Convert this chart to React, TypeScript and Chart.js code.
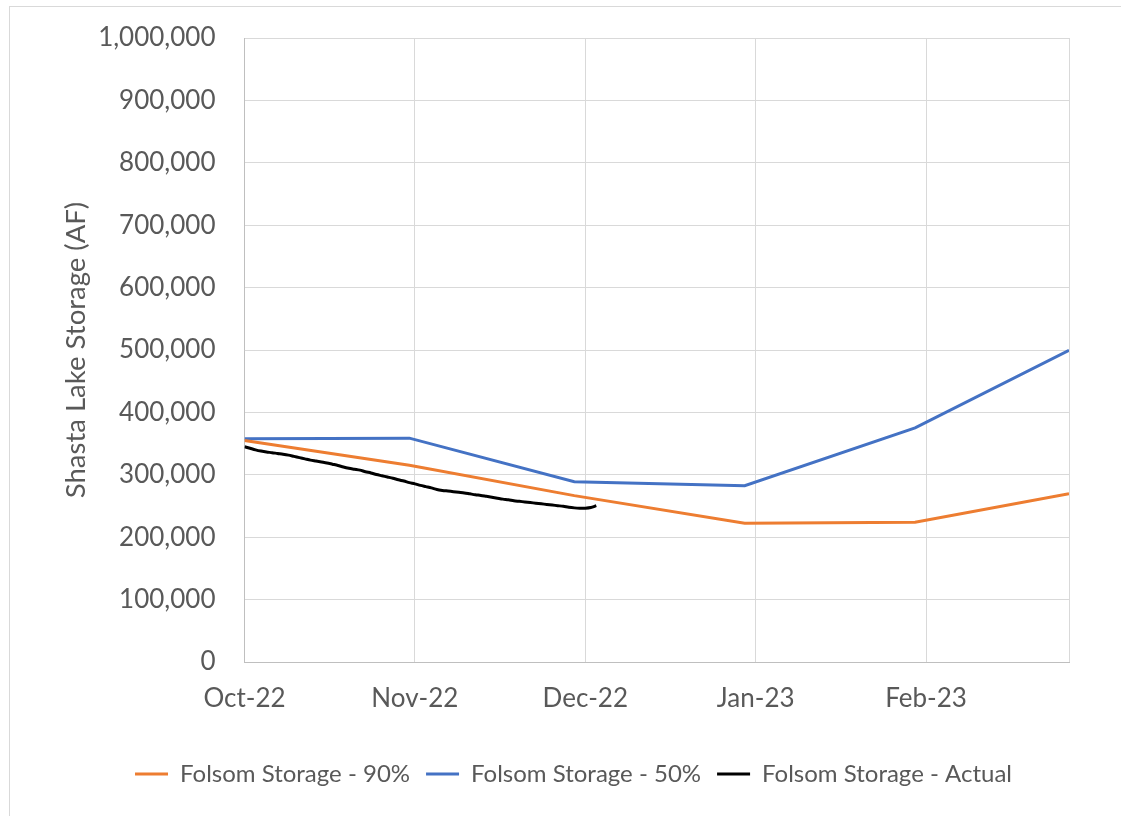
import React, { useEffect, useRef } from "react";
import { Chart, registerables } from "chart.js";

Chart.register(...registerables);

const forecastDates = ["2022-10-01", "2022-10-31", "2022-11-30", "2022-12-31", "2023-01-31", "2023-02-28"];
const storage90 = [355000, 315300, 266600, 222500, 224100, 269800];
const storage50 = [357600, 358700, 289000, 282600, 375200, 499500];

const actualStart = "2022-10-01";
const storageActual = [
  345000, 342500, 340000, 338000, 336500, 335500, 334200, 333000, 331500, 329500,
  327500, 325500, 323500, 322000, 320500, 319000, 317000, 315000, 312500, 310500,
  309000, 307500, 305000, 303000, 300500, 298500, 296500, 294500, 292000, 290000,
  287500, 285500, 283000, 281000, 279000, 276500, 275000, 274000, 273000, 272000,
  271000, 269500, 268000, 267000, 265500, 264000, 262500, 261000, 260000, 258500,
  257500, 256500, 255500, 254500, 253500, 252500, 251500, 250500, 249500, 248000,
  247000, 246500, 246500, 247500, 250500,
];

const axisStart = "2022-10-01";
const axisEnd = "2023-02-28";
const tickDates = ["2022-10-01", "2022-11-01", "2022-12-02", "2023-01-02", "2023-02-02", "2023-02-28"];
const tickLabels = ["Oct-22", "Nov-22", "Dec-22", "Jan-23", "Feb-23", ""];

const seriesNames = ["Folsom Storage - 90%", "Folsom Storage - 50%", "Folsom Storage - Actual"];
const seriesColors = ["#ED7D31", "#4472C4", "#000000"];

const DAY = 86400000;
const dayOf = (s: string) => Math.round((Date.parse(s + "T00:00:00Z") - Date.parse(axisStart + "T00:00:00Z")) / DAY);

const FONT = "Lato, 'Open Sans', sans-serif";
const TEXT = "#595959";

export default function App() {
  const ref = useRef<HTMLCanvasElement | null>(null);
  useEffect(() => {
    if (!ref.current) return;
    const actualBase = dayOf(actualStart);
    const chart = new Chart(ref.current, {
      type: "line",
      data: {
        datasets: [
          {
            label: seriesNames[0],
            data: forecastDates.map((d, i) => ({ x: dayOf(d), y: storage90[i] })),
            borderColor: seriesColors[0],
            backgroundColor: seriesColors[0],
            borderWidth: 3,
            pointRadius: 0,
            tension: 0,
          },
          {
            label: seriesNames[1],
            data: forecastDates.map((d, i) => ({ x: dayOf(d), y: storage50[i] })),
            borderColor: seriesColors[1],
            backgroundColor: seriesColors[1],
            borderWidth: 3,
            pointRadius: 0,
            tension: 0,
          },
          {
            label: seriesNames[2],
            data: storageActual.map((v, i) => ({ x: actualBase + i, y: v })),
            borderColor: seriesColors[2],
            backgroundColor: seriesColors[2],
            borderWidth: 3,
            pointRadius: 0,
            tension: 0.3,
          },
        ],
      },
      options: {
        animation: false,
        responsive: false,
        maintainAspectRatio: false,
        layout: { padding: { left: 78, right: 52, top: 38, bottom: 20 } },
        plugins: {
          tooltip: { enabled: false },
          legend: {
            position: "bottom",
            labels: {
              font: { family: FONT, size: 24 },
              color: TEXT,
              boxWidth: 33,
              boxHeight: 3,
              padding: 16,
              generateLabels: (c: any) =>
                Chart.defaults.plugins.legend.labels.generateLabels(c).map((l: any) => ({
                  ...l,
                  lineWidth: 0,
                  fillStyle: l.strokeStyle,
                })),
            },
          },
        },
        scales: {
          x: {
            type: "linear",
            min: dayOf(axisStart),
            max: dayOf(axisEnd),
            afterBuildTicks: (scale: any) => {
              scale.ticks = tickDates.map((d) => ({ value: dayOf(d) }));
            },
            afterFit: (scale: any) => {
              scale.height = 84;
              scale.paddingLeft = 0;
              scale.paddingRight = 0;
            },
            ticks: {
              autoSkip: false,
              maxRotation: 0,
              padding: 21,
              color: TEXT,
              font: { family: FONT, size: 26 },
              callback: (_v: any, i: number) => tickLabels[i],
            },
            grid: { color: "#D9D9D9", lineWidth: 1, drawTicks: false },
            border: { color: "#BFBFBF", width: 1 },
          },
          y: {
            min: 0,
            max: 1000000,
            afterFit: (scale: any) => {
              scale.width = 166.5;
              scale.paddingTop = 0;
              scale.paddingBottom = 0;
            },
            ticks: {
              stepSize: 100000,
              padding: 29,
              color: TEXT,
              font: { family: FONT, size: 26 },
              callback: (v: any) => Number(v).toLocaleString("en-US"),
            },
            grid: { color: "#D9D9D9", lineWidth: 1, drawTicks: false },
            border: { color: "#BFBFBF", width: 1 },
            title: {
              display: true,
              text: "Shasta Lake Storage (AF)",
              color: TEXT,
              font: { family: FONT, size: 27.5 },
              padding: { top: -18.5, bottom: 0 },
            },
          },
        },
      },
    });
    return () => chart.destroy();
  }, []);

  return (
    <div style={{ position: "fixed", left: 0, top: 0, width: 1121, height: 816, overflow: "hidden", background: "#fff" }}>
      <div
        style={{
          position: "absolute",
          left: 9,
          top: 6,
          width: 1140,
          height: 840,
          border: "1px solid #D9D9D9",
          boxSizing: "border-box",
        }}
      />
      <canvas ref={ref} width={1121} height={816} style={{ position: "absolute", left: 0, top: 0 }} />
    </div>
  );
}
